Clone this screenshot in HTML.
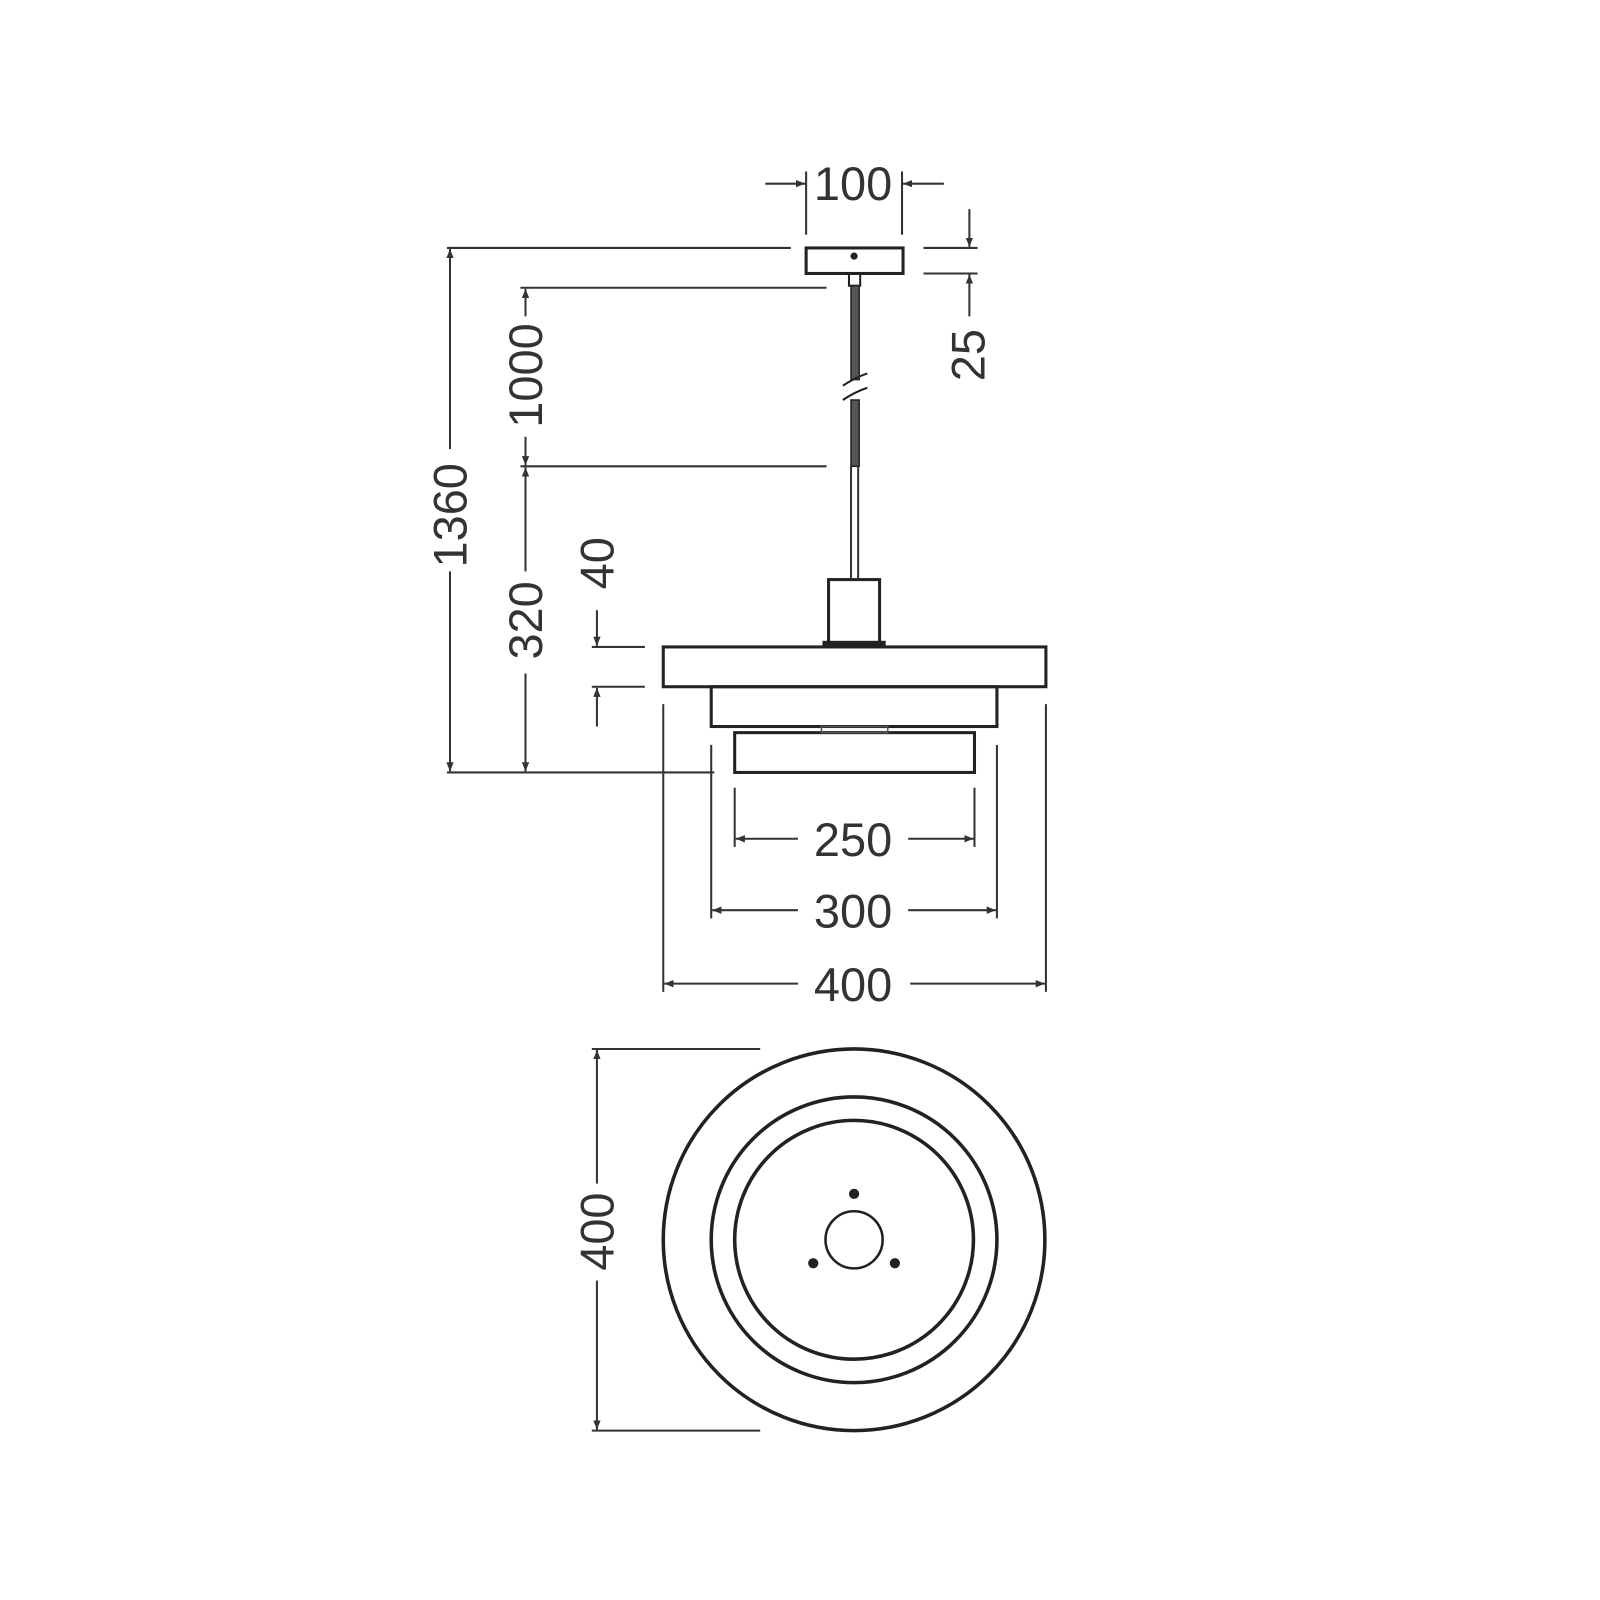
<!DOCTYPE html>
<html><head><style>html,body{margin:0;padding:0;background:#fff}svg{display:block}</style></head><body>
<svg width="1600" height="1600" viewBox="0 0 1600 1600" xmlns="http://www.w3.org/2000/svg" font-family="Liberation Sans, sans-serif">
<defs>
<marker id="a" viewBox="0 0 10 10" refX="10" refY="5" markerWidth="9" markerHeight="9" orient="auto-start-reverse" markerUnits="userSpaceOnUse"><path d="M0,1 L10,5 L0,9z" fill="#333"/></marker>
</defs>
<g transform="scale(1.0204)">
<g stroke="#333" stroke-width="2" fill="none">
<line x1="790" y1="168" x2="790" y2="230"/><line x1="884" y1="168" x2="884" y2="230"/>
<line x1="750" y1="180" x2="789" y2="180" marker-end="url(#a)"/>
<line x1="925" y1="180" x2="885" y2="180" marker-end="url(#a)"/>
<line x1="905" y1="243" x2="958" y2="243"/><line x1="905" y1="268" x2="958" y2="268"/>
<line x1="950" y1="205" x2="950" y2="242" marker-end="url(#a)"/>
<line x1="950" y1="310" x2="950" y2="269" marker-end="url(#a)"/>
<line x1="438" y1="243" x2="775" y2="243"/>
<line x1="438" y1="757" x2="700" y2="757"/>
<line x1="441" y1="440" x2="441" y2="244" marker-end="url(#a)"/>
<line x1="441" y1="560" x2="441" y2="756" marker-end="url(#a)"/>
<line x1="510" y1="282" x2="810" y2="282"/>
<line x1="510" y1="457" x2="810" y2="457"/>
<line x1="515" y1="310" x2="515" y2="283" marker-end="url(#a)"/>
<line x1="515" y1="428" x2="515" y2="456" marker-end="url(#a)"/>
<line x1="515" y1="560" x2="515" y2="458" marker-end="url(#a)"/>
<line x1="515" y1="660" x2="515" y2="756" marker-end="url(#a)"/>
<line x1="580" y1="634" x2="632" y2="634"/><line x1="580" y1="673" x2="632" y2="673"/>
<line x1="585" y1="598" x2="585" y2="633" marker-end="url(#a)"/>
<line x1="585" y1="712" x2="585" y2="674" marker-end="url(#a)"/>
<line x1="650" y1="690" x2="650" y2="972"/><line x1="1025" y1="690" x2="1025" y2="972"/>
<line x1="697" y1="730" x2="697" y2="900"/><line x1="977" y1="730" x2="977" y2="900"/>
<line x1="720" y1="772" x2="720" y2="830"/><line x1="955" y1="772" x2="955" y2="830"/>
<line x1="782" y1="822" x2="721" y2="822" marker-end="url(#a)"/><line x1="890" y1="822" x2="954" y2="822" marker-end="url(#a)"/>
<line x1="782" y1="892" x2="698" y2="892" marker-end="url(#a)"/><line x1="890" y1="892" x2="976" y2="892" marker-end="url(#a)"/>
<line x1="782" y1="964" x2="651" y2="964" marker-end="url(#a)"/><line x1="892" y1="964" x2="1024" y2="964" marker-end="url(#a)"/>
<line x1="580" y1="1028" x2="745" y2="1028"/><line x1="580" y1="1402" x2="745" y2="1402"/>
<line x1="585" y1="1160" x2="585" y2="1029" marker-end="url(#a)"/>
<line x1="585" y1="1255" x2="585" y2="1401" marker-end="url(#a)"/>
</g>
<g stroke="#222" stroke-width="3" fill="none">
<rect x="790" y="243" width="95" height="25"/>
<rect x="832" y="268" width="11" height="12" stroke-width="2"/>
<rect x="812" y="568" width="50" height="62"/>
<rect x="650" y="634" width="375" height="39"/>
<rect x="697" y="673" width="280" height="39"/>
<rect x="720" y="718" width="235" height="39"/>
</g>
<circle cx="837" cy="251" r="3.5" fill="#222"/>
<rect x="834" y="280" width="8" height="92" fill="#555" stroke="#222" stroke-width="1.5"/>
<rect x="834" y="392" width="8" height="65" fill="#555" stroke="#222" stroke-width="1.5"/>
<path d="M826,378 Q838,370 850,366 M826,392 Q838,384 850,380" stroke="#222" stroke-width="2" fill="none"/>
<path d="M834,457 V568 M841,457 V568" stroke="#333" stroke-width="2"/>
<rect x="806" y="628" width="62" height="6" fill="#222"/>
<rect x="805" y="712" width="65" height="6" fill="none" stroke="#555" stroke-width="1.5"/>
<g stroke="#222" stroke-width="3.5" fill="none">
<circle cx="837" cy="1215" r="187"/>
<circle cx="837" cy="1215" r="140"/>
<circle cx="837" cy="1215" r="117"/>
<circle cx="837" cy="1215" r="28" stroke-width="2.5"/>
</g>
<circle cx="837" cy="1170" r="5" fill="#222"/>
<circle cx="797" cy="1238" r="5" fill="#222"/>
<circle cx="877" cy="1238" r="5" fill="#222"/>
<g fill="#333" font-size="46" text-anchor="middle">
<text x="836" y="196">100</text>
<text x="836" y="839">250</text>
<text x="836" y="909">300</text>
<text x="836" y="981">400</text>
<text transform="translate(965,348) rotate(-90)">25</text>
<text transform="translate(457,505) rotate(-90)">1360</text>
<text transform="translate(531,368) rotate(-90)">1000</text>
<text transform="translate(531,608) rotate(-90)">320</text>
<text transform="translate(601,552) rotate(-90)">40</text>
<text transform="translate(601,1207) rotate(-90)">400</text>
</g>
</g>
</svg>
</body></html>
